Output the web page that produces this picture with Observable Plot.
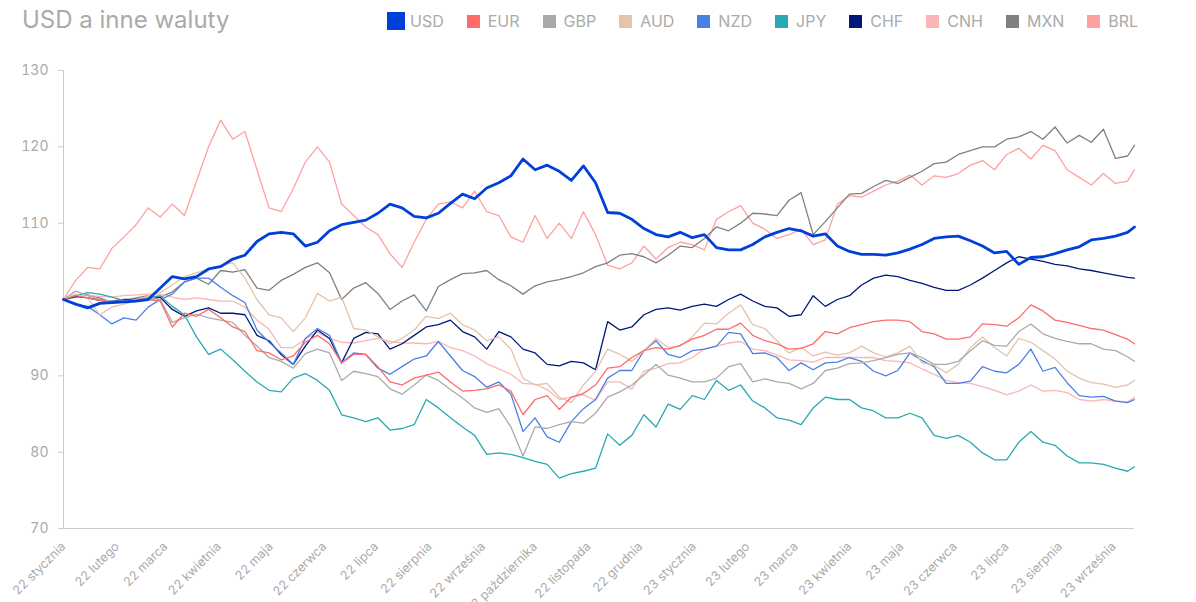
<!DOCTYPE html>
<html><head><meta charset="utf-8">
<script src="https://cdn.jsdelivr.net/npm/d3@7"></script>
<script src="https://cdn.jsdelivr.net/npm/@observablehq/plot@0.6"></script>
<style>
body{margin:0;background:#fff;font-family:Inter,sans-serif;}
#header{position:relative;height:40px;width:1196px;}
#title{position:absolute;left:22px;top:5px;font-size:24px;color:#aaa;line-height:normal;}
#legend{position:absolute;left:387px;top:12px;display:flex;align-items:center;font-size:16px;color:#aaa;line-height:18px;}
.item{display:flex;align-items:center;margin-right:23px;}
.sw{width:13px;height:13px;margin-right:8px;}
#chart svg{display:block;}
</style></head><body>
<div id="header"><div id="title">USD a inne waluty</div><div id="legend"></div></div>
<div id="chart"></div>
<script>
const currencies = ["USD","EUR","GBP","AUD","NZD","JPY","CHF","CNH","MXN","BRL"];
const colors = ["#0040d9","#ff6b6b","#aaaaaa","#e4c4aa","#4a80e4","#28a9b2","#00187a","#fbb5b5","#808080","#ffa0a0"];
const monthNames = ["stycznia","lutego","marca","kwietnia","maja","czerwca","lipca","sierpnia","września","października","listopada","grudnia"];
const yTicks = [70,80,90,110,120,130];

const usd = [100,99.4,98.9,99.5,99.6,99.7,99.8,100.0,101.5,103.0,
102.7,103.0,104.0,104.3,105.3,105.8,107.6,108.6,108.8,108.6,
107.0,107.5,109.0,109.8,110.1,110.4,111.3,112.5,112.0,110.9,
110.7,111.3,112.6,113.8,113.2,114.6,115.3,116.2,118.4,117.0,
117.6,116.8,115.6,117.5,115.3,111.4,111.3,110.5,109.3,108.5,
108.2,108.8,108.1,108.5,106.8,106.5,106.5,107.2,108.2,108.8,
109.3,109.0,108.3,108.6,107.0,106.3,105.9,105.9,105.8,106.1,
106.6,107.2,108.0,108.2,108.3,107.7,107.0,106.1,106.3,104.6,
105.5,105.6,106.0,106.5,106.9,107.8,108.0,108.3,108.8,109.5];
const eur = [100.0,100.5,100.2,99.9,99.6,99.7,99.9,100.0,99.8,96.4,
98.2,97.8,98.7,97.6,96.4,95.8,93.3,93.0,92.1,92.6,
94.4,95.3,94.2,91.7,92.8,92.8,91.2,89.2,88.8,89.7,
90.1,90.5,89.2,88.0,88.1,88.3,88.8,88.0,84.9,86.9,
87.4,85.6,87.2,87.7,88.8,91.0,91.2,92.4,93.3,93.7,
93.5,94.0,94.8,95.3,96.1,96.1,96.9,95.3,94.6,94.2,
93.5,93.6,94.2,95.8,95.5,96.3,96.7,97.1,97.3,97.3,
97.1,95.8,95.5,94.8,94.8,95.1,96.8,96.7,96.5,97.6,
99.3,98.5,97.3,97.0,96.6,96.2,96.0,95.4,94.8,94.2];
const gbp = [100.0,101.1,100.5,100.0,99.8,99.8,100.0,100.2,100.0,97.0,
97.6,98.1,97.6,97.3,97.0,95.3,93.9,92.4,91.9,91.0,
92.9,93.5,93.0,89.4,90.6,90.3,89.9,88.3,87.6,88.8,
90.1,89.4,88.2,87.1,85.8,85.2,85.7,83.3,79.5,83.3,
83.1,83.6,84.0,83.8,85.1,87.2,87.9,88.8,90.1,91.5,
90.1,89.7,89.2,89.2,89.7,91.2,91.6,89.2,89.6,89.2,
89.0,88.3,89.0,90.7,91.0,91.6,91.7,92.0,92.4,92.8,
93.0,92.4,91.5,91.5,91.9,93.3,94.6,94.0,93.9,95.8,
96.8,95.5,94.9,94.5,94.2,94.2,93.5,93.3,92.5,91.9];
const aud = [100.0,100.7,100.2,98.0,99.0,99.4,99.8,100.5,100.9,101.9,
103.0,103.5,104.0,104.5,104.8,102.8,100.0,98.0,97.6,95.8,
97.6,100.8,99.8,100.3,96.2,96.0,95.1,94.2,94.9,96.0,
97.8,97.5,98.2,96.7,96.0,94.6,95.1,93.5,89.7,88.8,
89.0,87.2,86.5,88.8,90.6,93.5,92.8,91.9,93.3,94.9,
93.7,93.9,95.1,96.9,96.8,98.2,99.3,96.7,96.2,94.6,
93.0,93.7,92.6,93.1,92.7,93.0,93.9,93.0,92.5,93.0,
93.9,91.7,91.4,90.4,91.5,93.7,95.1,93.7,92.6,94.9,
94.4,93.3,92.2,90.6,89.7,89.1,88.9,88.5,88.8,89.4];
const nzd = [100.0,99.4,99.1,98.0,96.8,97.6,97.3,99.0,100.0,100.7,
102.3,102.8,102.8,101.6,100.5,99.6,96.0,94.4,93.0,91.5,
94.9,96.2,95.3,91.7,93.0,92.8,91.0,90.2,91.2,92.2,
92.6,94.5,92.6,90.7,89.9,88.5,89.2,87.6,82.7,84.5,
82.0,81.3,84.0,85.7,86.9,89.7,90.7,90.7,93.3,94.6,
92.8,92.4,93.3,93.5,93.9,95.7,95.5,92.9,93.0,92.4,
90.7,91.7,90.8,91.7,91.8,92.4,91.9,90.6,90.0,90.7,
93.0,92.0,91.2,89.0,89.0,89.3,91.2,90.6,90.4,91.5,
93.5,90.6,91.1,89.1,87.4,87.2,87.3,86.7,86.5,86.9];
const jpy = [100.0,100.5,100.9,100.7,100.3,99.9,99.8,100.2,100.5,99.1,
98.0,95.1,92.8,93.5,92.1,90.6,89.2,88.1,87.9,89.7,
90.3,89.4,88.1,84.9,84.5,84.0,84.5,82.9,83.1,83.6,
86.9,85.8,84.5,83.3,82.2,79.7,79.9,79.7,79.3,78.8,
78.4,76.6,77.2,77.5,77.9,82.4,80.9,82.2,84.9,83.3,
86.3,85.6,87.4,86.9,89.4,88.1,88.8,86.7,85.8,84.5,
84.2,83.6,85.8,87.2,86.9,86.9,85.8,85.4,84.5,84.5,
85.1,84.5,82.2,81.8,82.2,81.3,79.9,79.0,79.0,81.3,
82.7,81.3,80.9,79.5,78.6,78.6,78.4,77.9,77.5,78.1];
const chf = [100.0,100.4,100.2,99.9,99.8,100.0,100.0,100.0,100.3,98.7,
97.8,98.5,98.9,98.2,98.2,98.0,95.3,94.6,92.8,91.5,
93.9,96.0,94.9,91.7,94.9,95.7,95.5,93.5,94.2,95.3,
96.4,96.7,97.3,95.8,95.1,93.5,95.8,95.1,93.5,93.0,
91.5,91.3,91.9,91.7,90.8,97.1,96.0,96.4,98.0,98.7,
98.9,98.6,99.1,99.4,99.1,100.0,100.7,99.8,99.1,98.9,
97.8,98.0,100.5,99.1,100.0,100.5,101.9,102.8,103.2,103.0,
102.5,102.1,101.6,101.2,101.2,101.9,102.8,103.8,104.8,105.6,
105.3,105.0,104.6,104.4,104.0,103.8,103.5,103.2,102.9,102.8];
const cnh = [100.0,100.5,100.5,100.4,100.3,100.5,100.6,100.7,100.7,100.3,
100.0,100.2,100.0,99.8,99.8,99.0,97.3,96.1,93.7,93.7,
94.8,95.7,94.9,94.4,94.3,94.6,94.9,94.5,94.3,94.3,
94.2,94.5,93.7,93.3,92.6,91.6,90.9,90.2,89.0,88.9,
88.2,86.9,87.2,87.5,86.8,89.2,89.2,88.3,90.6,91.0,
91.6,91.7,92.4,93.5,93.9,94.3,94.5,93.5,93.3,92.7,
92.1,92.0,91.8,92.4,92.4,92.4,92.4,92.4,92.0,91.9,
91.7,90.9,90.2,89.4,89.1,89.0,88.6,88.1,87.5,88.0,
88.8,88.0,88.1,87.8,86.9,86.7,86.9,86.7,86.6,87.2];
const mxn = [100.0,100.3,100.6,100.2,99.6,99.8,100.2,100.5,100.3,101.0,
102.3,102.8,102.0,103.8,103.6,103.9,101.5,101.2,102.5,103.3,
104.2,104.8,103.5,100.0,101.5,102.2,100.8,98.7,99.8,100.6,
98.5,101.7,102.6,103.4,103.5,103.8,102.6,101.8,100.7,101.8,
102.3,102.6,103.0,103.5,104.3,104.8,105.8,106.0,105.6,104.8,
105.8,107.0,106.8,108.0,109.5,109.0,110.0,111.3,111.2,111.0,
113.0,114.0,108.5,110.2,112.0,113.8,113.9,114.8,115.6,115.2,
116.0,116.8,117.8,118.0,119.0,119.5,120.0,120.0,121.0,121.3,
122.0,121.0,122.6,120.5,121.5,120.6,122.3,118.5,118.8,120.2];
const brl = [100,102.5,104.2,104.0,106.7,108.2,109.8,112.0,110.8,112.5,
111.0,115.5,120.0,123.5,121.0,122.0,117.0,112.0,111.5,114.5,
118.0,120.0,118.0,112.5,111.0,109.5,108.5,106.0,104.2,107.5,
110.5,112.5,112.8,112.0,114.2,111.5,111.0,108.2,107.5,111.0,
108.0,110.0,108.0,111.5,108.5,104.5,104.0,104.8,107.0,105.3,
106.8,107.5,107.2,106.5,110.5,111.5,112.3,110.0,109.2,108.0,
108.5,109.2,107.2,107.8,112.5,113.6,113.4,114.2,115.0,115.5,
116.3,115.0,116.2,116.0,116.5,117.6,118.2,117.0,119.0,119.8,
118.4,120.2,119.5,117.0,116.0,115.0,116.5,115.2,115.5,117.0];

const seriesValues = {USD:usd,EUR:eur,GBP:gbp,AUD:aud,NZD:nzd,JPY:jpy,CHF:chf,CNH:cnh,MXN:mxn,BRL:brl};
const start = new Date(Date.UTC(2022,0,1));
const end = new Date(Date.UTC(2023,8,13));
const dates = [...d3.utcDay.range(start, new Date(Date.UTC(2023,8,10)), 7), end];
const monthTicks = d3.utcMonth.range(start, new Date(Date.UTC(2023,8,2)));

const rows = [];
for (const c of currencies) seriesValues[c].forEach((v,i)=>rows.push({date:dates[i], cur:c, value:v}));
const order = currencies.slice(1).reverse();
const others = rows.filter(d=>d.cur!=="USD").sort((a,b)=>order.indexOf(a.cur)-order.indexOf(b.cur));
const usdRows = rows.filter(d=>d.cur==="USD");

// legend
const leg = document.getElementById("legend");
currencies.forEach((c,i)=>{
  const it = document.createElement("div"); it.className="item";
  const sw = document.createElement("div"); sw.className="sw"; sw.style.background=colors[i];
  if (c==="USD"){sw.style.width="18px";sw.style.height="18px";sw.style.marginRight="5px";}
  const lb = document.createElement("span"); lb.textContent=c;
  it.appendChild(sw); it.appendChild(lb); leg.appendChild(it);
});

const chart = Plot.plot({
  width:1196, height:562,
  marginTop:30, marginBottom:74, marginLeft:63, marginRight:62,
  style:{fontFamily:"Inter, sans-serif", background:"#fff"},
  x:{type:"utc", domain:[start,end]},
  y:{domain:[70,130]},
  color:{domain:currencies, range:colors},
  marks:[
    Plot.axisY({ticks:yTicks, tickSize:5, tickPadding:10, stroke:"#cccccc", fill:"#aaaaaa", fontSize:14, label:null}),
    Plot.axisX({ticks:monthTicks, tickSize:0, tickPadding:16, tickRotate:-45, fill:"#aaaaaa", fontSize:12.5, label:null,
      tickFormat:d=>`${String(d.getUTCFullYear()).slice(2)} ${monthNames[d.getUTCMonth()]}`}),
    Plot.ruleX([start], {stroke:"#cccccc"}),
    Plot.ruleY([70], {stroke:"#cccccc"}),
    Plot.line(others, {x:"date", y:"value", z:"cur", stroke:"cur", strokeWidth:1.3}),
    Plot.line(usdRows, {x:"date", y:"value", stroke:colors[0], strokeWidth:2.8})
  ]
});
document.getElementById("chart").appendChild(chart);
</script>
</body></html>
